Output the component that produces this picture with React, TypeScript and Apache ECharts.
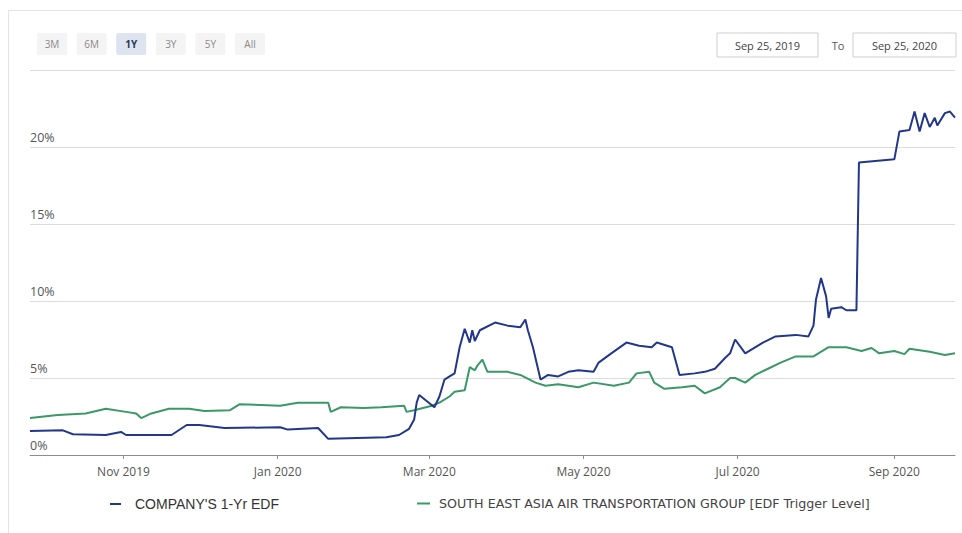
import React, { useEffect, useRef } from "react";
import * as echarts from "echarts";

const companyName = "COMPANY'S 1-Yr EDF";
const groupName = "SOUTH EAST ASIA AIR TRANSPORTATION GROUP [EDF Trigger Level]";

const companyDates = [
  "2019-09-25", "2019-10-08", "2019-10-12", "2019-10-25", "2019-10-31", "2019-11-02", "2019-11-20", "2019-11-26",
  "2019-12-01", "2019-12-11", "2020-01-02", "2020-01-05", "2020-01-17", "2020-01-21", "2020-02-13", "2020-02-18",
  "2020-02-22", "2020-02-24", "2020-02-25", "2020-02-26", "2020-03-03", "2020-03-05", "2020-03-07", "2020-03-09",
  "2020-03-11", "2020-03-13", "2020-03-15", "2020-03-17", "2020-03-18", "2020-03-19", "2020-03-21", "2020-03-27",
  "2020-04-01", "2020-04-06", "2020-04-08", "2020-04-09", "2020-04-11", "2020-04-14", "2020-04-17", "2020-04-21",
  "2020-04-25", "2020-04-29", "2020-05-05", "2020-05-07", "2020-05-12", "2020-05-18", "2020-05-23", "2020-05-28",
  "2020-05-30", "2020-06-05", "2020-06-08", "2020-06-14", "2020-06-18", "2020-06-22", "2020-06-26", "2020-06-28",
  "2020-06-30", "2020-07-04", "2020-07-11", "2020-07-16", "2020-07-24", "2020-07-29", "2020-07-31", "2020-08-01",
  "2020-08-03", "2020-08-05", "2020-08-06", "2020-08-07", "2020-08-11", "2020-08-13", "2020-08-17", "2020-08-18",
  "2020-09-01", "2020-09-03", "2020-09-07", "2020-09-09", "2020-09-11", "2020-09-13", "2020-09-15", "2020-09-17",
  "2020-09-18", "2020-09-21", "2020-09-23", "2020-09-25",
];
const companyValues = [
  1.56, 1.6, 1.35, 1.3, 1.5, 1.3, 1.3, 1.95,
  1.95, 1.75, 1.8, 1.65, 1.75, 1.05, 1.15, 1.3,
  1.7, 2.3, 3.4, 3.9, 3.1, 3.8, 4.9, 5.1,
  5.3, 7.0, 8.2, 7.3, 8.1, 7.4, 8.1, 8.6,
  8.4, 8.3, 8.8, 8.1, 7.0, 4.9, 5.2, 5.1,
  5.4, 5.5, 5.4, 6.0, 6.6, 7.3, 7.1, 7.0,
  7.3, 7.0, 5.2, 5.3, 5.4, 5.6, 6.3, 6.6,
  7.5, 6.6, 7.3, 7.7, 7.8, 7.7, 8.4, 10.1,
  11.5, 10.3, 8.9, 9.5, 9.6, 9.4, 9.4, 19.0,
  19.2, 21.0, 21.1, 22.3, 21.0, 22.2, 21.3, 21.9,
  21.4, 22.2, 22.3, 21.9,
];

const groupDates = [
  "2019-09-25", "2019-10-06", "2019-10-17", "2019-10-25", "2019-11-02", "2019-11-06", "2019-11-08", "2019-11-12",
  "2019-11-19", "2019-11-27", "2019-12-03", "2019-12-13", "2019-12-17", "2020-01-02", "2020-01-09", "2020-01-21",
  "2020-01-22", "2020-01-26", "2020-02-04", "2020-02-11", "2020-02-20", "2020-02-21", "2020-02-24", "2020-03-02",
  "2020-03-05", "2020-03-09", "2020-03-11", "2020-03-15", "2020-03-17", "2020-03-19", "2020-03-20", "2020-03-22",
  "2020-03-24", "2020-04-01", "2020-04-06", "2020-04-12", "2020-04-16", "2020-04-21", "2020-04-29", "2020-05-05",
  "2020-05-13", "2020-05-19", "2020-05-22", "2020-05-27", "2020-05-29", "2020-06-02", "2020-06-09", "2020-06-14",
  "2020-06-18", "2020-06-24", "2020-06-28", "2020-06-30", "2020-07-04", "2020-07-08", "2020-07-13", "2020-07-18",
  "2020-07-24", "2020-07-31", "2020-08-06", "2020-08-13", "2020-08-19", "2020-08-23", "2020-08-26", "2020-09-01",
  "2020-09-05", "2020-09-07", "2020-09-15", "2020-09-21", "2020-09-25",
];
const groupValues = [
  2.4, 2.6, 2.7, 3.0, 2.8, 2.7, 2.4, 2.7,
  3.0, 3.0, 2.85, 2.9, 3.3, 3.2, 3.4, 3.4,
  2.8, 3.1, 3.05, 3.1, 3.2, 2.8, 2.9, 3.2,
  3.4, 3.8, 4.1, 4.2, 5.7, 5.5, 5.8, 6.2,
  5.4, 5.4, 5.2, 4.7, 4.5, 4.6, 4.4, 4.7,
  4.5, 4.7, 5.3, 5.4, 4.7, 4.3, 4.4, 4.5,
  4.0, 4.4, 5.0, 5.0, 4.7, 5.2, 5.6, 6.0,
  6.4, 6.4, 7.0, 7.0, 6.75, 6.95, 6.6, 6.75,
  6.55, 6.9, 6.7, 6.5, 6.6,
];

const rangeButtons = ["3M", "6M", "1Y", "3Y", "5Y", "All"];
const selectedRange = "1Y";
const fromDate = "Sep 25, 2019";
const toDate = "Sep 25, 2020";
const xStart = "2019-09-25";
const xEnd = "2020-09-25";
const tickDates = ["2019-11-01", "2020-01-01", "2020-03-01", "2020-05-01", "2020-07-01", "2020-09-01"];
const monthNames = ["Jan", "Feb", "Mar", "Apr", "May", "Jun", "Jul", "Aug", "Sep", "Oct", "Nov", "Dec"];
const yTicks = [0, 5, 10, 15, 20];

function ts(s: string): number {
  const [y, m, d] = s.split("-").map(Number);
  return new Date(y, m - 1, d).getTime();
}

export default function App() {
  const ref = useRef<HTMLDivElement>(null);
  useEffect(() => {
    if (!ref.current) return;
    const chart = echarts.init(ref.current, null, { renderer: "svg" });
    const tickValues = tickDates.map(ts);
    const font = "'Open Sans', sans-serif";

    const buttonGraphics: any[] = [];
    rangeButtons.forEach((b, i) => {
      const cx = 52 + i * 39.6;
      const sel = b === selectedRange;
      buttonGraphics.push({
        type: "rect",
        shape: { x: cx - 15, y: 33, width: 30, height: 22, r: 2 },
        style: { fill: sel ? "#dde4ef" : "#f4f4f4" },
      });
      buttonGraphics.push({
        type: "text",
        x: cx,
        y: 44,
        style: {
          text: b,
          fill: sel ? "#2b3a5a" : "#8a8a8a",
          font: `${sel ? "bold " : ""}10px ${font}`,
          align: "center",
          verticalAlign: "middle",
        },
      });
    });

    chart.setOption({
      animation: false,
      backgroundColor: "#ffffff",
      textStyle: { fontFamily: font },
      grid: { left: 30, right: 7, top: 70, bottom: 78, containLabel: false },
      xAxis: {
        type: "value",
        min: ts(xStart),
        max: ts(xEnd),
        axisLine: { show: true, lineStyle: { color: "#8c8c8c", width: 1 } },
        axisTick: { show: true, customValues: tickValues, length: 4, lineStyle: { color: "#8c8c8c" } },
        axisLabel: {
          customValues: tickValues,
          margin: 10,
          color: "#555",
          fontSize: 12,
          fontFamily: font,
          formatter: (v: number) => {
            const d = new Date(v);
            return `${monthNames[d.getMonth()]} ${d.getFullYear()}`;
          },
        },
        splitLine: { show: false },
      },
      yAxis: {
        type: "value",
        min: 0,
        max: 25,
        interval: 5,
        axisLine: { show: false },
        axisTick: { show: false },
        axisLabel: {
          inside: true,
          margin: 0,
          align: "left",
          verticalAlign: "bottom",
          padding: [0, 0, 3, 0],
          color: "#555",
          fontSize: 12.5,
          fontFamily: font,
          formatter: (v: number) => (yTicks.includes(v) ? `${v}%` : ""),
        },
        splitLine: { show: true, lineStyle: { color: "#dcdcdc", width: 1 } },
      },
      legend: [
        {
          left: 105,
          top: 492,
          data: [companyName],
          icon: "rect",
          itemWidth: 11,
          itemHeight: 2,
          textStyle: {
            fontFamily: "'Liberation Sans', Arial, sans-serif",
            fontSize: 14,
            color: "#333",
            padding: [0, 0, 0, 9],
          },
        },
        {
          left: 412,
          top: 492,
          data: [groupName],
          icon: "rect",
          itemWidth: 13,
          itemHeight: 2,
          textStyle: {
            fontFamily: "'DejaVu Sans', sans-serif",
            fontSize: 12.7,
            color: "#444",
            padding: [0, 0, 0, 4],
          },
        },
      ],
      graphic: [
        { type: "line", shape: { x1: 8.5, y1: 10.5, x2: 962, y2: 10.5 }, style: { stroke: "#e3e3e3", lineWidth: 1 } },
        { type: "line", shape: { x1: 8.5, y1: 10.5, x2: 8.5, y2: 533 }, style: { stroke: "#e3e3e3", lineWidth: 1 } },
        ...buttonGraphics,
        {
          type: "rect",
          shape: { x: 717, y: 33, width: 101, height: 24 },
          style: { fill: "#fff", stroke: "#cfcfcf", lineWidth: 1 },
        },
        {
          type: "text",
          x: 767.5,
          y: 45,
          style: { text: fromDate, fill: "#444", font: `11px ${font}`, align: "center", verticalAlign: "middle" },
        },
        {
          type: "text",
          x: 838,
          y: 45,
          style: { text: "To", fill: "#555", font: `11px ${font}`, align: "center", verticalAlign: "middle" },
        },
        {
          type: "rect",
          shape: { x: 853, y: 33, width: 103, height: 24 },
          style: { fill: "#fff", stroke: "#cfcfcf", lineWidth: 1 },
        },
        {
          type: "text",
          x: 904.5,
          y: 45,
          style: { text: toDate, fill: "#444", font: `11px ${font}`, align: "center", verticalAlign: "middle" },
        },
      ],
      series: [
        {
          name: companyName,
          type: "line",
          showSymbol: false,
          data: companyDates.map((d, i) => [ts(d), companyValues[i]]),
          lineStyle: { color: "#22378c", width: 2 },
          itemStyle: { color: "#22378c" },
          z: 3,
        },
        {
          name: groupName,
          type: "line",
          showSymbol: false,
          data: groupDates.map((d, i) => [ts(d), groupValues[i]]),
          lineStyle: { color: "#3b9868", width: 2 },
          itemStyle: { color: "#3b9868" },
          z: 2,
        },
      ],
    });
    return () => chart.dispose();
  }, []);

  return (
    <div
      ref={ref}
      style={{ position: "fixed", left: 0, top: 0, width: 962, height: 533, background: "#fff" }}
    />
  );
}
